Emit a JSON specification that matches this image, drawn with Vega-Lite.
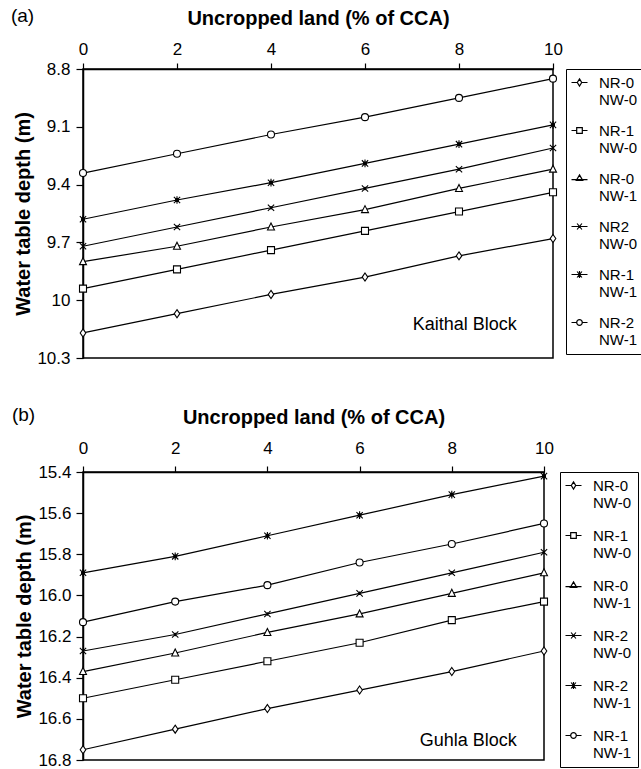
{
  "$schema": "https://vega.github.io/schema/vega-lite/v6.json",
  "padding": {"left": 10, "top": 6, "right": 0, "bottom": 0},
  "background": "white",
  "datasets": {
    "kaithal": [
      {"series": "NR-0|NW-0", "x": 0, "depth": 10.17}, {"series": "NR-0|NW-0", "x": 2, "depth": 10.07}, {"series": "NR-0|NW-0", "x": 4, "depth": 9.97}, {"series": "NR-0|NW-0", "x": 6, "depth": 9.88}, {"series": "NR-0|NW-0", "x": 8, "depth": 9.77}, {"series": "NR-0|NW-0", "x": 10, "depth": 9.68},
      {"series": "NR-1|NW-0", "x": 0, "depth": 9.94}, {"series": "NR-1|NW-0", "x": 2, "depth": 9.84}, {"series": "NR-1|NW-0", "x": 4, "depth": 9.74}, {"series": "NR-1|NW-0", "x": 6, "depth": 9.64}, {"series": "NR-1|NW-0", "x": 8, "depth": 9.54}, {"series": "NR-1|NW-0", "x": 10, "depth": 9.44},
      {"series": "NR-0|NW-1", "x": 0, "depth": 9.80}, {"series": "NR-0|NW-1", "x": 2, "depth": 9.72}, {"series": "NR-0|NW-1", "x": 4, "depth": 9.62}, {"series": "NR-0|NW-1", "x": 6, "depth": 9.53}, {"series": "NR-0|NW-1", "x": 8, "depth": 9.42}, {"series": "NR-0|NW-1", "x": 10, "depth": 9.32},
      {"series": "NR2|NW-0", "x": 0, "depth": 9.72}, {"series": "NR2|NW-0", "x": 2, "depth": 9.62}, {"series": "NR2|NW-0", "x": 4, "depth": 9.52}, {"series": "NR2|NW-0", "x": 6, "depth": 9.42}, {"series": "NR2|NW-0", "x": 8, "depth": 9.32}, {"series": "NR2|NW-0", "x": 10, "depth": 9.21},
      {"series": "NR-1|NW-1", "x": 0, "depth": 9.58}, {"series": "NR-1|NW-1", "x": 2, "depth": 9.48}, {"series": "NR-1|NW-1", "x": 4, "depth": 9.39}, {"series": "NR-1|NW-1", "x": 6, "depth": 9.29}, {"series": "NR-1|NW-1", "x": 8, "depth": 9.19}, {"series": "NR-1|NW-1", "x": 10, "depth": 9.09},
      {"series": "NR-2|NW-1", "x": 0, "depth": 9.34}, {"series": "NR-2|NW-1", "x": 2, "depth": 9.24}, {"series": "NR-2|NW-1", "x": 4, "depth": 9.14}, {"series": "NR-2|NW-1", "x": 6, "depth": 9.05}, {"series": "NR-2|NW-1", "x": 8, "depth": 8.95}, {"series": "NR-2|NW-1", "x": 10, "depth": 8.85}
    ],
    "guhla": [
      {"series": "NR-0|NW-0", "x": 0, "depth": 16.75}, {"series": "NR-0|NW-0", "x": 2, "depth": 16.65}, {"series": "NR-0|NW-0", "x": 4, "depth": 16.55}, {"series": "NR-0|NW-0", "x": 6, "depth": 16.46}, {"series": "NR-0|NW-0", "x": 8, "depth": 16.37}, {"series": "NR-0|NW-0", "x": 10, "depth": 16.27},
      {"series": "NR-1|NW-0", "x": 0, "depth": 16.50}, {"series": "NR-1|NW-0", "x": 2, "depth": 16.41}, {"series": "NR-1|NW-0", "x": 4, "depth": 16.32}, {"series": "NR-1|NW-0", "x": 6, "depth": 16.23}, {"series": "NR-1|NW-0", "x": 8, "depth": 16.12}, {"series": "NR-1|NW-0", "x": 10, "depth": 16.03},
      {"series": "NR-0|NW-1", "x": 0, "depth": 16.37}, {"series": "NR-0|NW-1", "x": 2, "depth": 16.28}, {"series": "NR-0|NW-1", "x": 4, "depth": 16.18}, {"series": "NR-0|NW-1", "x": 6, "depth": 16.09}, {"series": "NR-0|NW-1", "x": 8, "depth": 15.99}, {"series": "NR-0|NW-1", "x": 10, "depth": 15.89},
      {"series": "NR-2|NW-0", "x": 0, "depth": 16.27}, {"series": "NR-2|NW-0", "x": 2, "depth": 16.19}, {"series": "NR-2|NW-0", "x": 4, "depth": 16.09}, {"series": "NR-2|NW-0", "x": 6, "depth": 15.99}, {"series": "NR-2|NW-0", "x": 8, "depth": 15.89}, {"series": "NR-2|NW-0", "x": 10, "depth": 15.79},
      {"series": "NR-2|NW-1", "x": 0, "depth": 15.89}, {"series": "NR-2|NW-1", "x": 2, "depth": 15.81}, {"series": "NR-2|NW-1", "x": 4, "depth": 15.71}, {"series": "NR-2|NW-1", "x": 6, "depth": 15.61}, {"series": "NR-2|NW-1", "x": 8, "depth": 15.51}, {"series": "NR-2|NW-1", "x": 10, "depth": 15.42},
      {"series": "NR-1|NW-1", "x": 0, "depth": 16.13}, {"series": "NR-1|NW-1", "x": 2, "depth": 16.03}, {"series": "NR-1|NW-1", "x": 4, "depth": 15.95}, {"series": "NR-1|NW-1", "x": 6, "depth": 15.84}, {"series": "NR-1|NW-1", "x": 8, "depth": 15.75}, {"series": "NR-1|NW-1", "x": 10, "depth": 15.65}
    ]
  },
  "vconcat": [
    {
      "title": {"text": "(a)", "anchor": "start", "frame": "bounds", "dx": -3, "offset": -33, "baseline": "alphabetic", "fontSize": 19, "fontWeight": "normal", "font": "Liberation Sans", "color": "black"},
      "width": 470,
      "height": 289,
      "encoding": {
        "x": {"field": "x", "type": "quantitative", "scale": {"domain": [0, 10], "nice": false, "zero": false},
              "axis": {"orient": "top", "values": [0, 2, 4, 6, 8, 10], "title": "Uncropped land (% of CCA)", "grid": false, "tickSize": 6, "labelPadding": 5, "titlePadding": 12}},
        "y": {"field": "depth", "type": "quantitative", "scale": {"domain": [8.8, 10.3], "reverse": true, "nice": false, "zero": false},
              "axis": {"values": [8.8, 9.1, 9.4, 9.7, 10, 10.3], "format": "~g", "title": "Water table depth (m)", "grid": false, "tickSize": 7, "labelPadding": 6, "titlePadding": 3}}
      },
      "layer": [
        {"data": {"values": [{"depth": 9.1}, {"depth": 9.4}, {"depth": 9.7}, {"depth": 10}]},
         "mark": {"type": "rule", "color": "#808080", "strokeWidth": 1.2, "strokeDash": [5, 3]},
         "encoding": {"y": {"field": "depth", "type": "quantitative"}}},
        {"data": {"name": "kaithal"}, "mark": {"type": "line", "color": "black", "strokeWidth": 1.2}, "encoding": {"detail": {"field": "series"}}},
        {"data": {"name": "kaithal"}, "mark": {"type": "point", "stroke": "black", "strokeWidth": 1.1, "size": 49, "opacity": 1, "fillOpacity": 1},
         "encoding": {
           "shape": {"field": "series", "type": "nominal", "legend": null,
             "scale": {"domain": ["NR-0|NW-0", "NR-1|NW-0", "NR-0|NW-1", "NR2|NW-0", "NR-1|NW-1", "NR-2|NW-1"],
                       "range": ["M0,-1.15L0.8,0L0,1.15L-0.8,0Z", "M-1,-1H1V1H-1Z", "M0,-1.15L1,0.85H-1Z", "M-0.9,-0.9L0.9,0.9M-0.9,0.9L0.9,-0.9M0,-0.5V0.5", "M-0.9,-0.9L0.9,0.9M-0.9,0.9L0.9,-0.9M0,-1.1V1.1M-0.4,-0.4H0.4V0.4H-0.4Z", "M-1,0A1,1 0 1,0 1,0A1,1 0 1,0 -1,0Z"]}},
           "fill": {"condition": {"test": "datum.series === 'NR-1|NW-1'", "value": "black"}, "value": "white"}
         }},
        {"data": {"name": "kaithal"}, "mark": {"type": "point", "opacity": 0, "size": 49},
         "encoding": {
           "shape": {"field": "series", "type": "nominal",
             "scale": {"domain": ["NR-0|NW-0", "NR-1|NW-0", "NR-0|NW-1", "NR2|NW-0", "NR-1|NW-1", "NR-2|NW-1"],
                       "range": ["M-2,0H-0.55M0.55,0H2M0,-0.9L0.55,0L0,0.9L-0.55,0Z", "M-2,0H-0.7M0.7,0H2M-0.7,-0.7H0.7V0.7H-0.7Z", "M-2,0.3H2M0,-0.9L0.8,0.5H-0.8Z", "M-2,0H2M-0.6,-0.75L0.6,0.75M-0.6,0.75L0.6,-0.75", "M-2,0H2M-0.6,-0.75L0.6,0.75M-0.6,0.75L0.6,-0.75M0,-0.85V0.85", "M-2,0H-0.7M0.7,0H2M-0.7,0A0.7,0.7 0 1,0 0.7,0A0.7,0.7 0 1,0 -0.7,0Z"]},
             "legend": {"title": null, "orient": "right", "offset": 10, "labelExpr": "split(datum.label, '|')", "strokeColor": "black", "padding": 6, "rowPadding": 15, "symbolSize": 64, "symbolOpacity": 1, "symbolStrokeColor": "black", "symbolFillColor": "white", "symbolStrokeWidth": 1.2, "labelFontSize": 15, "labelFont": "Liberation Sans", "labelColor": "black", "labelOffset": 12, "labelLimit": 200}}
         }},
        {"data": {"values": [{"x": 9.23, "depth": 10.13, "label": "Kaithal Block"}]},
         "mark": {"type": "text", "align": "right", "baseline": "middle", "fontSize": 18, "font": "Liberation Sans", "color": "black"},
         "encoding": {"text": {"field": "label"}}}
      ],
      "resolve": {"scale": {"shape": "independent"}}
    },
    {
      "title": {"text": "(b)", "anchor": "start", "frame": "bounds", "dx": -3, "offset": -33, "baseline": "alphabetic", "fontSize": 19, "fontWeight": "normal", "font": "Liberation Sans", "color": "black"},
      "width": 461,
      "height": 288,
      "encoding": {
        "x": {"field": "x", "type": "quantitative", "scale": {"domain": [0, 10], "nice": false, "zero": false},
              "axis": {"orient": "top", "values": [0, 2, 4, 6, 8, 10], "title": "Uncropped land (% of CCA)", "grid": false, "tickSize": 6, "labelPadding": 9, "titlePadding": 12}},
        "y": {"field": "depth", "type": "quantitative", "scale": {"domain": [15.4, 16.8], "reverse": true, "nice": false, "zero": false},
              "axis": {"values": [15.4, 15.6, 15.8, 16.0, 16.2, 16.4, 16.6, 16.8], "format": ".1f", "title": "Water table depth (m)", "grid": false, "tickSize": 7, "labelPadding": 5, "titlePadding": 3}}
      },
      "layer": [
        {"data": {"values": [{"depth": 15.6}, {"depth": 15.8}, {"depth": 16.0}, {"depth": 16.2}, {"depth": 16.4}, {"depth": 16.6}]},
         "mark": {"type": "rule", "color": "#808080", "strokeWidth": 1.2, "strokeDash": [5, 3]},
         "encoding": {"y": {"field": "depth", "type": "quantitative"}}},
        {"data": {"name": "guhla"}, "mark": {"type": "line", "color": "black", "strokeWidth": 1.2}, "encoding": {"detail": {"field": "series"}}},
        {"data": {"name": "guhla"}, "mark": {"type": "point", "stroke": "black", "strokeWidth": 1.1, "size": 49, "opacity": 1, "fillOpacity": 1},
         "encoding": {
           "shape": {"field": "series", "type": "nominal", "legend": null,
             "scale": {"domain": ["NR-0|NW-0", "NR-1|NW-0", "NR-0|NW-1", "NR-2|NW-0", "NR-2|NW-1", "NR-1|NW-1"],
                       "range": ["M0,-1.15L0.8,0L0,1.15L-0.8,0Z", "M-1,-1H1V1H-1Z", "M0,-1.15L1,0.85H-1Z", "M-0.9,-0.9L0.9,0.9M-0.9,0.9L0.9,-0.9M0,-0.5V0.5", "M-0.9,-0.9L0.9,0.9M-0.9,0.9L0.9,-0.9M0,-1.1V1.1M-0.4,-0.4H0.4V0.4H-0.4Z", "M-1,0A1,1 0 1,0 1,0A1,1 0 1,0 -1,0Z"]}},
           "fill": {"condition": {"test": "datum.series === 'NR-2|NW-1'", "value": "black"}, "value": "white"}
         }},
        {"data": {"name": "guhla"}, "mark": {"type": "point", "opacity": 0, "size": 49},
         "encoding": {
           "shape": {"field": "series", "type": "nominal",
             "scale": {"domain": ["NR-0|NW-0", "NR-1|NW-0", "NR-0|NW-1", "NR-2|NW-0", "NR-2|NW-1", "NR-1|NW-1"],
                       "range": ["M-2,0H-0.55M0.55,0H2M0,-0.9L0.55,0L0,0.9L-0.55,0Z", "M-2,0H-0.7M0.7,0H2M-0.7,-0.7H0.7V0.7H-0.7Z", "M-2,0.3H2M0,-0.9L0.8,0.5H-0.8Z", "M-2,0H2M-0.6,-0.75L0.6,0.75M-0.6,0.75L0.6,-0.75", "M-2,0H2M-0.6,-0.75L0.6,0.75M-0.6,0.75L0.6,-0.75M0,-0.85V0.85", "M-2,0H-0.7M0.7,0H2M-0.7,0A0.7,0.7 0 1,0 0.7,0A0.7,0.7 0 1,0 -0.7,0Z"]},
             "legend": {"title": null, "orient": "right", "offset": 13, "labelExpr": "split(datum.label, '|')", "strokeColor": "black", "padding": 6, "rowPadding": 17, "symbolSize": 64, "symbolOpacity": 1, "symbolStrokeColor": "black", "symbolFillColor": "white", "symbolStrokeWidth": 1.2, "labelFontSize": 15, "labelFont": "Liberation Sans", "labelColor": "black", "labelOffset": 12, "labelLimit": 200}}
         }},
        {"data": {"values": [{"x": 9.41, "depth": 16.71, "label": "Guhla Block"}]},
         "mark": {"type": "text", "align": "right", "baseline": "middle", "fontSize": 18, "font": "Liberation Sans", "color": "black"},
         "encoding": {"text": {"field": "label"}}}
      ],
      "resolve": {"scale": {"shape": "independent"}}
    }
  ],
  "spacing": 38,
  "config": {
    "font": "Liberation Sans",
    "view": {"stroke": "black", "strokeWidth": 1.5},
    "axis": {"labelFont": "Liberation Sans", "labelFontSize": 17, "labelColor": "black", "titleFont": "Liberation Sans", "titleFontSize": 20, "titleFontWeight": "bold", "titleColor": "black", "domainColor": "black", "domainWidth": 1.5, "tickColor": "black", "tickWidth": 1.2, "labelFlush": false}
  }
}
